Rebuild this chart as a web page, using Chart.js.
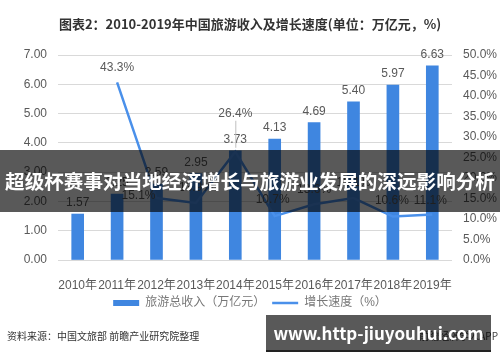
<!DOCTYPE html>
<html>
<head>
<meta charset="utf-8">
<script src="https://cdn.jsdelivr.net/npm/chart.js@4/dist/chart.umd.min.js"></script>
<style>
  html, body { margin: 0; padding: 0; background: #fff; }
  #wrap { position: relative; width: 500px; height: 362px; overflow: hidden;
          font-family: "Noto Sans CJK SC", "Noto Sans", sans-serif; }
  #chart { position: absolute; left: 0; top: 0; }
  .title { position: absolute; top: 14px; left: 0; width: 500px; text-align: center;
           font-size: 13px; font-weight: bold; color: #333; line-height: 20px; }
  .banner { position: absolute; left: 0; top: 150px; width: 500px; height: 62px;
            background: rgba(0, 0, 0, 0.65); color: #fff; font-weight: bold;
            font-size: 19.6px; line-height: 62px; text-align: center; white-space: nowrap; }
  .source { position: absolute; left: 7px; top: 328px; font-size: 10px; color: #333; line-height: 16px; }
  .app { position: absolute; right: 2px; top: 328px; font-size: 10px; color: #444; line-height: 16px; }
  .mark { position: absolute; left: 266px; top: 315px; width: 225px; height: 35px;
          background: rgba(0, 0, 0, 0.65); border-bottom: 2px solid #222; color: #fff;
          font-weight: bold; font-size: 17px; line-height: 35px; text-align: center; white-space: nowrap; }
</style>
</head>
<body>
<div id="wrap">
  <canvas id="chart" width="500" height="362"></canvas>
  <div class="title">图表2：2010-2019年中国旅游收入及增长速度(单位：万亿元，%)</div>
  <div class="banner">超级杯赛事对当地经济增长与旅游业发展的深远影响分析</div>
  <div class="source">资料来源：中国文旅部 前瞻产业研究院整理</div>
  <div class="app">前瞻经济学人APP</div>
  <div class="mark">www.http-jiuyouhui.com</div>
</div>
<script>
const years = ['2010年', '2011年', '2012年', '2013年', '2014年', '2015年', '2016年', '2017年', '2018年', '2019年'];
const revenue = [1.57, 2.25, 2.59, 2.95, 3.73, 4.13, 4.69, 5.40, 5.97, 6.63];
const growth = [null, 43.3, 15.1, 13.9, 26.4, 10.7, 13.6, 15.1, 10.6, 11.1];
const revenueLabel = '旅游总收入（万亿元）';
const growthLabel = '增长速度（%）';

const BAR_COLOR = '#3f86e0';
const LINE_COLOR = '#4a90ea';
const TEXT = '#595959';
const FONT = '"Liberation Sans", "Noto Sans CJK SC", sans-serif';

// label placement for the growth line, [dx, dy, leader]
const growthShift = [null, [0, -15], [-18, -2], [0, -15], [0, -38, true], [-2, -16], [0, -15], [0, -15], [-1, -16], [-2, -14]];

const valueLabels = {
    id: 'valueLabels',
    afterDatasetsDraw(chart) {
        const ctx = chart.ctx;
        ctx.save();
        ctx.font = '12px ' + FONT;
        ctx.fillStyle = TEXT;
        ctx.textAlign = 'center';
        ctx.textBaseline = 'middle';
        chart.getDatasetMeta(0).data.forEach((bar, i) => {
            ctx.fillText(revenue[i].toFixed(2), bar.x, bar.y - 11);
        });
        chart.getDatasetMeta(1).data.forEach((pt, i) => {
            if (growth[i] == null) return;
            const [dx, dy, leader] = growthShift[i];
            if (leader) {
                ctx.strokeStyle = '#bfbfbf';
                ctx.lineWidth = 1;
                ctx.beginPath();
                ctx.moveTo(pt.x + 0.5, pt.y + dy + 7);
                ctx.lineTo(pt.x + 0.5, pt.y - 4);
                ctx.stroke();
            }
            ctx.fillText(growth[i].toFixed(1) + '%', pt.x + dx, pt.y + dy);
        });
        ctx.restore();
    }
};

new Chart(document.getElementById('chart'), {
    data: {
        labels: years,
        datasets: [
            {
                type: 'bar',
                label: revenueLabel,
                data: revenue,
                backgroundColor: BAR_COLOR,
                barThickness: 12,
                yAxisID: 'y',
                order: 1
            },
            {
                type: 'line',
                label: growthLabel,
                data: growth,
                borderColor: LINE_COLOR,
                backgroundColor: LINE_COLOR,
                borderWidth: 2.5,
                pointRadius: 0,
                tension: 0,
                yAxisID: 'y1',
                order: 0
            }
        ]
    },
    options: {
        responsive: false,
        animation: false,
        layout: { padding: { top: 55, left: 0, right: 0, bottom: 43 } },
        scales: {
            x: {
                grid: { display: false },
                border: { display: false },
                ticks: { color: TEXT, font: { size: 12, family: FONT }, padding: 10,
                         maxRotation: 0, autoSkip: false },
                afterFit: s => { s.height = 30; }
            },
            y: {
                position: 'left',
                min: 0, max: 7,
                grid: { color: '#d9d9d9', drawTicks: false },
                border: { display: false },
                ticks: { stepSize: 1, color: TEXT, font: { size: 12, family: FONT }, padding: 11,
                         callback: v => v.toFixed(2) },
                afterFit: s => { s.width = 58; }
            },
            y1: {
                position: 'right',
                min: 0, max: 50,
                grid: { display: false, drawTicks: false },
                border: { display: false },
                ticks: { stepSize: 5, color: TEXT, font: { size: 12, family: FONT }, padding: 11,
                         callback: v => v.toFixed(1) + '%' },
                afterFit: s => { s.width = 48; }
            }
        },
        plugins: {
            title: { display: false },
            tooltip: { enabled: false },
            legend: {
                position: 'bottom',
                labels: {
                    padding: 7,
                    color: '#777',
                    font: { size: 12, family: FONT },
                    usePointStyle: true,
                    pointStyleWidth: 26,
                    boxHeight: 6,
                    sort: (a, b) => a.datasetIndex - b.datasetIndex,
                    generateLabels(chart) {
                        const items = Chart.defaults.plugins.legend.labels.generateLabels(chart);
                        items.forEach(it => {
                            if (it.datasetIndex === 0) {
                                it.pointStyle = 'rect';
                                it.fillStyle = BAR_COLOR;
                                it.lineWidth = 0;
                            } else {
                                it.pointStyle = 'line';
                                it.strokeStyle = LINE_COLOR;
                                it.lineWidth = 2.5;
                            }
                        });
                        return items;
                    }
                }
            }
        }
    },
    plugins: [valueLabels]
});
</script>
</body>
</html>
